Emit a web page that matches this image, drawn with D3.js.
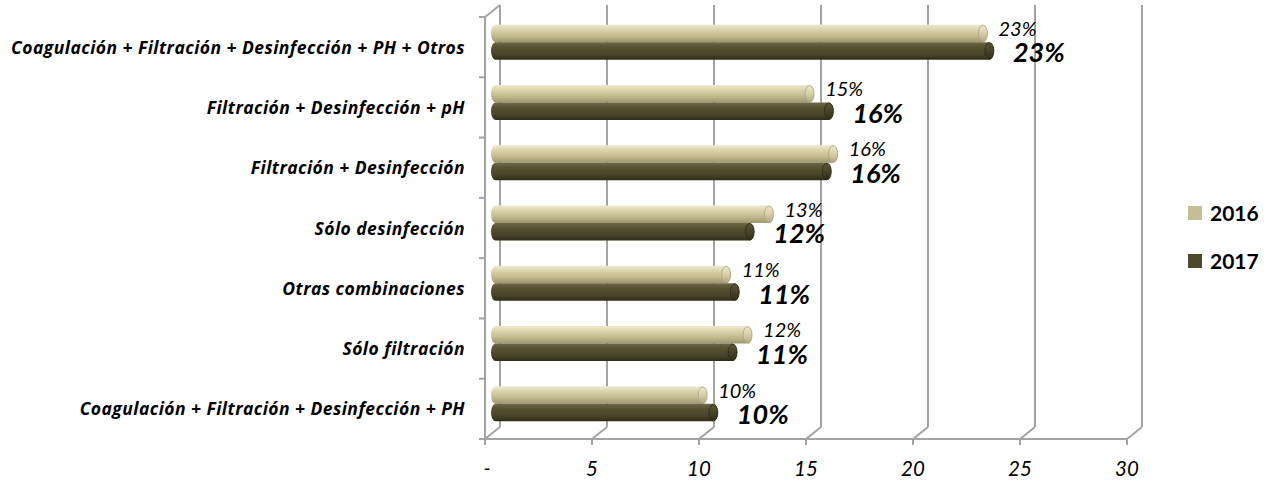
<!DOCTYPE html>
<html>
<head>
<meta charset="utf-8">
<script src="https://cdn.jsdelivr.net/npm/d3@7/dist/d3.min.js"></script>
<style>
  html, body { margin: 0; padding: 0; background: #ffffff; }
  svg { display: block; }
</style>
</head>
<body>
<svg id="chart" width="1275" height="483"></svg>
<script>
const categories = [
  "Coagulación + Filtración + Desinfección + PH + Otros",
  "Filtración + Desinfección + pH",
  "Filtración + Desinfección",
  "Sólo desinfección",
  "Otras combinaciones",
  "Sólo filtración",
  "Coagulación + Filtración + Desinfección + PH"
];
const seriesNames = ["2016", "2017"];
const values2016 = [23.2, 15.1, 16.2, 13.2, 11.2, 12.2, 10.1];
const values2017 = [23.5, 16.0, 15.9, 12.3, 11.6, 11.5, 10.6];
const labels2016 = ["23%", "15%", "16%", "13%", "11%", "12%", "10%"];
const labels2017 = ["23%", "16%", "16%", "12%", "11%", "11%", "10%"];
const tickValues = [0, 5, 10, 15, 20, 25, 30];
const tickLabels = ["-", "5", "10", "15", "20", "25", "30"];

const svg = d3.select("#chart");
const gridColor = "#a3a3a3";

// Perspective geometry
const front = { left: 485, right: 1127, top: 17, bottom: 439 };
const depth = { dx: 15, dy: -12 };
const barDepth = { dx: 6, dy: -5 };

const x = d3.scaleLinear().domain([0, 30]).range([front.left, front.right]);
const y = d3.scaleBand().domain(categories).range([front.top, front.bottom]).paddingInner(0.42).paddingOuter(0.21);
const ySub = d3.scaleBand().domain(seriesNames).range([0, y.bandwidth()]);
const yCenter = d3.scaleBand().domain(categories).range([front.top, front.bottom]);

// Gradients
const defs = svg.append("defs");
function grad(id, stops) {
  const g = defs.append("linearGradient").attr("id", id).attr("x1", 0).attr("y1", 0).attr("x2", 0).attr("y2", 1);
  stops.forEach(s => g.append("stop").attr("offset", s[0]).attr("stop-color", s[1]));
}
grad("g2016", [[0, "#efead0"], [0.25, "#ddd6b0"], [0.6, "#c6bd92"], [1, "#9e9670"]]);
grad("g2017", [[0, "#6d6747"], [0.3, "#575132"], [0.7, "#48432a"], [1, "#2f2c17"]]);
grad("c2016", [[0, "#ece6cb"], [0.5, "#d6cfa9"], [1, "#b0a880"]]);
grad("c2017", [[0, "#5c5637"], [0.5, "#47422a"], [1, "#302d19"]]);

const grid = svg.append("g").attr("stroke", gridColor).attr("stroke-width", 2).attr("fill", "none");

// back wall gridlines
grid.selectAll("line.back").data(tickValues).join("line")
  .attr("x1", d => x(d) + depth.dx).attr("x2", d => x(d) + depth.dx)
  .attr("y1", 5).attr("y2", front.bottom + depth.dy);
// floor diagonals
grid.selectAll("line.diag").data(tickValues).join("line")
  .attr("x1", d => x(d)).attr("y1", front.bottom)
  .attr("x2", d => x(d) + depth.dx).attr("y2", front.bottom + depth.dy);
// front floor line
grid.append("line").attr("x1", x(0)).attr("x2", x(30)).attr("y1", front.bottom).attr("y2", front.bottom);
// front ticks
grid.selectAll("line.ft").data(tickValues).join("line")
  .attr("x1", d => x(d)).attr("x2", d => x(d))
  .attr("y1", front.bottom).attr("y2", front.bottom + 6);
// left wall front vertical
grid.append("line").attr("x1", front.left).attr("x2", front.left).attr("y1", front.top).attr("y2", front.bottom);
// top slant
grid.append("line").attr("x1", front.left).attr("y1", front.top).attr("x2", front.left + depth.dx).attr("y2", 5);
// left ticks
const leftTicks = d3.range(categories.length + 1).map(i => front.top + i * yCenter.step());
grid.selectAll("line.lt").data(leftTicks).join("line")
  .attr("x1", front.left - 6).attr("x2", front.left)
  .attr("y1", d => d).attr("y2", d => d);

// Bars
const rx = 4.5;
function barPath(x0, x1, y0, h) {
  const r = h / 2;
  return `M${x0 + rx},${y0} L${x1 - rx},${y0} A${rx},${r} 0 0 1 ${x1 - rx},${y0 + h} L${x0 + rx},${y0 + h} A${rx},${r} 0 0 1 ${x0 + rx},${y0} Z`;
}
const barsData = [];
categories.forEach((c, i) => {
  barsData.push({ cat: c, s: "2016", v: values2016[i], label: labels2016[i] });
  barsData.push({ cat: c, s: "2017", v: values2017[i], label: labels2017[i] });
});
const barsG = svg.append("g");
const bars = barsG.selectAll("g.bar").data(barsData).join("g").attr("class", "bar");
bars.append("path")
  .attr("d", d => {
    const y0 = y(d.cat) + ySub(d.s) + barDepth.dy;
    return barPath(x(0) + barDepth.dx, x(d.v) + barDepth.dx, y0, ySub.bandwidth());
  })
  .attr("fill", d => `url(#g${d.s})`);
bars.append("ellipse")
  .attr("cx", d => x(d.v) + barDepth.dx - rx)
  .attr("cy", d => y(d.cat) + ySub(d.s) + barDepth.dy + ySub.bandwidth() / 2)
  .attr("rx", rx).attr("ry", ySub.bandwidth() / 2 - 0.5)
  .attr("fill", d => `url(#c${d.s})`)
  .attr("stroke", d => d.s === "2016" ? "#aaa282" : "#2e2b17")
  .attr("stroke-width", 0.8);

// Data labels
const labelsG = svg.append("g").attr("font-family", "Lato, 'Open Sans', sans-serif").attr("font-style", "italic").attr("fill", "#000");
labelsG.selectAll("text").data(barsData).join("text")
  .attr("x", d => x(d.v) + barDepth.dx + (d.s === "2016" ? 11 : 19))
  .attr("y", d => y(d.cat) + ySub(d.s) + barDepth.dy + ySub.bandwidth() / 2 + (d.s === "2016" ? 2.5 : 11.5))
  .attr("font-size", d => d.s === "2016" ? "20px" : "27px")
  .attr("font-weight", d => d.s === "2016" ? "normal" : "bold")
  .text(d => d.label);

// Category labels
svg.append("g").selectAll("text").data(categories).join("text")
  .attr("x", 465)
  .attr("y", d => yCenter(d) + yCenter.bandwidth() / 2 + 6.5)
  .attr("text-anchor", "end")
  .attr("font-family", "'Open Sans', Lato, sans-serif")
  .attr("font-style", "italic").attr("font-weight", "bold")
  .attr("font-size", "17.5px").attr("letter-spacing", "0.45px").attr("fill", "#000")
  .text(d => d);

// X axis tick labels
svg.append("g").selectAll("text").data(tickValues).join("text")
  .attr("x", d => x(d) + (d === 0 ? 2 : 0))
  .attr("y", 476)
  .attr("text-anchor", "middle")
  .attr("font-family", "Lato, 'Open Sans', sans-serif")
  .attr("font-style", "italic")
  .attr("font-size", "20.5px").attr("fill", "#000")
  .text((d, i) => tickLabels[i]);

// Legend
const legend = svg.append("g").attr("transform", "translate(1188,206)");
const legendColors = { "2016": "#c5bd94", "2017": "#4e492d" };
const lg = legend.selectAll("g").data(seriesNames).join("g").attr("transform", (d, i) => `translate(0,${i * 48})`);
lg.append("rect").attr("width", 14).attr("height", 14).attr("fill", d => legendColors[d]);
lg.append("text").attr("x", 22).attr("y", 15)
  .attr("font-family", "Lato, 'Open Sans', sans-serif").attr("font-weight", "bold")
  .attr("font-size", "21px").attr("fill", "#000").text(d => d);
</script>
</body>
</html>
